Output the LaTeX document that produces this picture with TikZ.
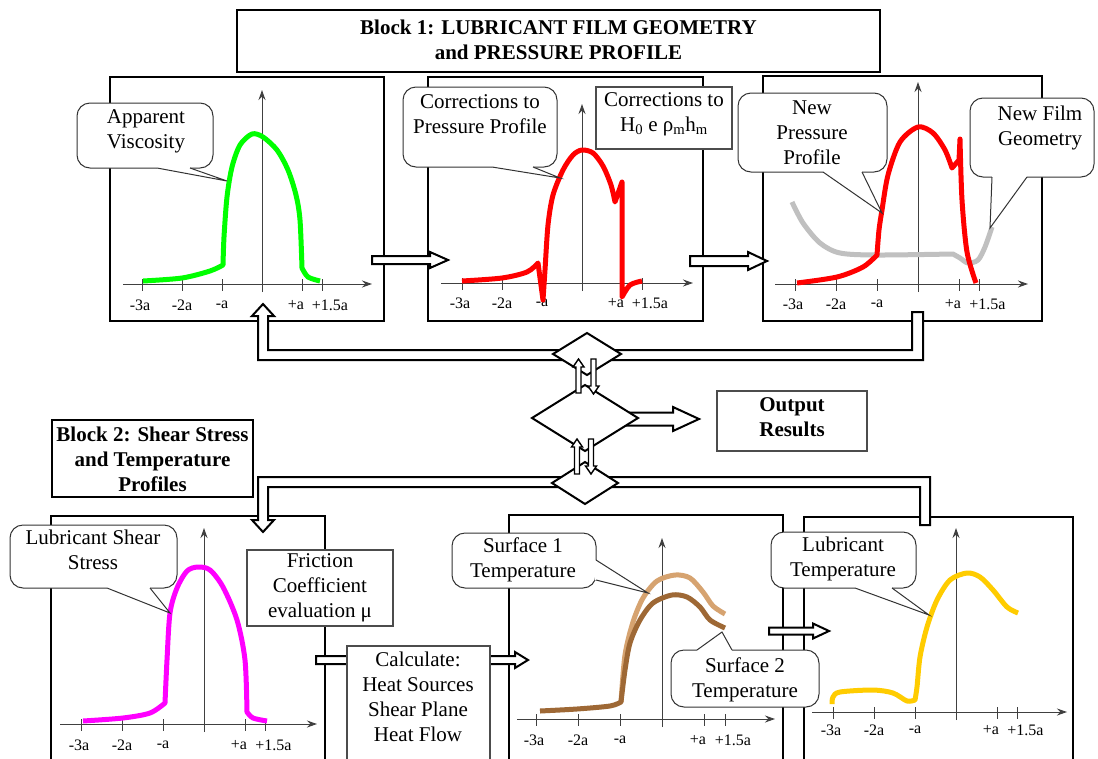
\documentclass[tikz,border=0pt]{standalone}
\usepackage{fontspec}
\setmainfont{Liberation Serif}
\usetikzlibrary{arrows.meta}
\definecolor{vgreen}{RGB}{0,255,0}
\definecolor{vred}{RGB}{255,0,0}
\definecolor{vgrey}{RGB}{192,192,192}
\definecolor{vmag}{RGB}{255,0,255}
\definecolor{vyellow}{RGB}{255,204,0}
\definecolor{surfA}{RGB}{214,163,112}
\definecolor{surfB}{RGB}{158,104,53}
\tikzset{
 panel/.style={draw=black, line width=2pt, fill=white},
 titlebox/.style={draw=black, line width=2pt, fill=white},
 tbox/.style={draw=black!70, line width=1.2pt, fill=white},
 callout/.style={draw=black!80, line width=1pt, fill=white, rounded corners=13pt},
 axisline/.style={draw=black!75, line width=1pt},
 curve/.style={line width=5pt, line join=round},
 blockarrow/.style={draw=black, line width=2pt, fill=white, line join=miter},
 smallarrow/.style={draw=black, line width=1.4pt, fill=white, line join=miter},
 pipe/.style={draw=black, line width=2pt, fill=white, line join=miter},
 diam/.style={draw=black, line width=2pt, fill=white, line join=miter},
 ctext/.style={font=\fontsize{21}{25}\selectfont, align=center, inner sep=0pt},
 btext/.style={font=\fontsize{21}{25}\selectfont\bfseries, align=center, inner sep=0pt},
 ltext/.style={font=\fontsize{16}{18}\selectfont, inner sep=0pt},
 axtip/.style={-{Stealth[length=10pt,width=7pt]}},
}
% X0, Y, a, xl, xr, ytop, ybot, ylab
\newcommand{\myAxes}[8]{%
 \draw[axisline,axtip] (#4,#2) -- (#5,#2);
 \draw[axisline,axtip] (#1,#7) -- (#1,#6);
 \foreach \k in {-3,-2,-1,1,1.5} \draw[axisline] ({#1+\k*#3},#2-5) -- ({#1+\k*#3},#2+7);
 \node[ltext] at ({#1-3*#3-2},#8) {-3a};
 \node[ltext] at ({#1-2*#3},#8) {-2a};
 \node[ltext] at ({#1-#3},#8) {-a};
 \node[ltext] at ({#1+#3-6},#8) {+a};
 \node[ltext] at ({#1+1.5*#3+8},#8) {+1.5a};
}
% x1, xtip, y, shaft half, head half, head length
\newcommand{\myRArrow}[6]{\filldraw[blockarrow] (#1,#3-#4) -- (#2-#6,#3-#4) -- (#2-#6,#3-#5) -- (#2,#3) -- (#2-#6,#3+#5) -- (#2-#6,#3+#4) -- (#1,#3+#4) -- cycle;}
% x, ytip, ybottom, shaft half, head half, head length
\newcommand{\myUArrow}[6]{\filldraw[smallarrow] (#1-#4,#3) -- (#1-#4,#2+#6) -- (#1-#5,#2+#6) -- (#1,#2) -- (#1+#5,#2+#6) -- (#1+#4,#2+#6) -- (#1+#4,#3) -- cycle;}
% x, ytop, ytip, shaft half, head half, head length
\newcommand{\myDArrow}[6]{\filldraw[smallarrow] (#1-#4,#2) -- (#1-#4,#3-#6) -- (#1-#5,#3-#6) -- (#1,#3) -- (#1+#5,#3-#6) -- (#1+#4,#3-#6) -- (#1+#4,#2) -- cycle;}
% corner1, corner2, base1, base2, tip
\newcommand{\myCallout}[5]{%
 \filldraw[callout] #1 rectangle #2;
 \fill[white] #3 -- #5 -- #4 -- cycle;
 \draw[white, line width=1.8pt] #3 -- #4;
 \draw[draw=black!80, line width=1pt, line join=miter] #3 -- #5 -- #4;
}
\begin{document}
\begin{tikzpicture}[x=1pt,y=-1pt]
\useasboundingbox (0,0) rectangle (1098,758);
\clip (0,0) rectangle (1098,758);
\fill[white] (0,0) rectangle (1098,758);

% title boxes
\draw[titlebox] (237,10) rectangle (880,72);
\node[btext] (t1) at (558.5,39.5) {Block 1: LUBRICANT FILM GEOMETRY\\and PRESSURE PROFILE};
\draw[titlebox] (52,420) rectangle (253,497);
\node[btext] (t2) at (152.5,459) {Block 2: Shear Stress\\and Temperature\\Profiles};

% panels
\draw[panel] (110,77) rectangle (384,321);
\draw[panel] (428,77) rectangle (703,321);
\draw[panel] (763,76) rectangle (1042,321);
\draw[panel] (51,516) rectangle (325,800);
\draw[panel] (509,515) rectangle (783,800);
\draw[panel] (804,517) rectangle (1073,800);

% axes
\myAxes{262}{284}{40}{123}{372}{90}{292}{305}
\myAxes{582}{283}{40}{441}{693}{104}{291}{303}
\myAxes{918}{284}{41}{775}{1028}{82}{292}{304}
\myAxes{204}{724}{41}{60}{317}{528}{732}{745}
\myAxes{662}{719}{42}{517}{775}{538}{727}{740}
\myAxes{956}{712}{41}{812}{1067}{528}{720}{730}

% curves
\draw[curve, vgreen] plot[smooth] coordinates {(143,281) (182,278) (210,271) (223,265)}
 -- plot[smooth] coordinates {(223,265) (224,237) (227,197) (232,167) (240,145) (252,134) (263,137) (277,150) (288,170) (296,195) (300,220) (302,268)}
 -- plot[smooth] coordinates {(302,268) (308,277) (320,281)};
\draw[curve, vred] plot[smooth] coordinates {(462,281) (502,278) (527,272) (538,263)} -- (543,300)
 -- plot[smooth] coordinates {(543,300) (545,270) (548,225) (553,195) (563,170) (573,155) (582,150) (593,153) (603,166) (611,185) (615,202)}
 -- (622,182) -- (622,297)
 -- plot[smooth] coordinates {(622,297) (630,285) (642,281)};
\draw[curve, vgrey] plot[smooth] coordinates {(792,202) (803,223) (820,243) (840,253) (877,255) (953,254)}
 -- plot[smooth] coordinates {(953,254) (960,258) (968,263) (978,260) (985,247) (992,227)};
\draw[curve, vred] plot[smooth] coordinates {(797,283) (837,277) (863,267) (877,255)}
 -- plot[smooth] coordinates {(877,255) (879,230) (882,210) (888,175) (900,142) (918,127) (933,133) (945,150) (952,168)}
 -- (959,160) -- (960,139)
 -- plot[smooth] coordinates {(960,139) (962,200) (967,252) (976,283)};
\draw[curve, vmag] plot[smooth] coordinates {(83,721) (123,718) (150,713) (165,703)}
 -- plot[smooth] coordinates {(165,703) (167,660) (170,613) (177,588) (187,571) (198,567) (210,570) (223,587) (237,620) (245,660) (247,712)}
 -- plot[smooth] coordinates {(247,712) (253,718) (267,721)};
\draw[curve, surfA] plot[smooth] coordinates {(621,702) (625,655) (633,622) (643,598) (657,581) (675,575) (690,578) (703,592) (713,606) (725,614)};
\draw[curve, surfB] plot[smooth] coordinates {(540,711) (577,709) (610,706) (621,702)}
 -- plot[smooth] coordinates {(621,702) (625,670) (630,643) (640,620) (653,603) (672,595) (687,597) (700,607) (710,620) (725,628)};
\draw[curve, vyellow] plot[smooth] coordinates {(832,704) (833,697) (840,692) (873,690) (893,693) (907,701) (915,700)}
 -- plot[smooth] coordinates {(915,700) (917,687) (920,657) (927,627) (937,600) (950,580) (967,573) (980,577) (993,590) (1007,607) (1018,613)};

% pipes
\filldraw[pipe] (263,304) -- (274,316) -- (268,316) -- (268,350) -- (912,350) -- (912,312) -- (923,312) -- (923,360) -- (258,360) -- (258,316) -- (252,316) -- cycle;
\filldraw[pipe] (263,532) -- (252,520) -- (258,520) -- (258,477) -- (930,477) -- (930,525) -- (920,525) -- (920,487) -- (268,487) -- (268,520) -- (274,520) -- cycle;

% output arrow and diamonds
\myRArrow{615}{699}{419}{6.5}{12}{26}
\filldraw[diam] (553,354) -- (587,333) -- (621,354) -- (587,375) -- cycle;
\filldraw[diam] (532,418) -- (585,385) -- (638,418) -- (585,451) -- cycle;
\filldraw[diam] (552,483) -- (585,462) -- (618,483) -- (585,504) -- cycle;
\myUArrow{578.5}{359}{393}{2.5}{5.5}{8}
\myDArrow{593.5}{359}{394}{2.5}{5.5}{8}
\myUArrow{577}{439}{474}{2.5}{5.5}{8}
\myDArrow{591}{439}{474}{2.5}{5.5}{8}

% block arrows between panels
\myRArrow{372}{448}{260}{4}{8}{18}
\myRArrow{690}{767}{261}{5}{9}{19}
\myRArrow{316}{363}{660}{4}{8}{13}
\myRArrow{476}{528}{660}{4}{8}{13}
\myRArrow{769}{829}{631}{3.5}{7.5}{16}

% text boxes
\draw[tbox] (596,87) rectangle (732,149);
\node[ctext] (hcorr) at (664,114) {Corrections to\\H\textsubscript{0} e ρ\textsubscript{m}h\textsubscript{m}};
\draw[tbox] (247,550) rectangle (393,626);
\node[ctext] (fric) at (320,588) {Friction\\Coefficient\\evaluation μ};
\draw[tbox] (347,646) rectangle (490,800);
\node[ctext] (calc) at (418,696.5) {Calculate:\\Heat Sources\\Shear Plane\\Heat Flow};
\draw[tbox] (717,391) rectangle (867,451);
\node[btext] (out) at (792,417.5) {Output\\Results};

% callouts
\myCallout{(77,103)}{(213,168)}{(157,168)}{(190,168)}{(227,181)}
\node[ctext] (c1) at (146,131.5) {Apparent\\Viscosity};
\myCallout{(403,87)}{(557,167)}{(492,167)}{(533,167)}{(560,178)}
\node[ctext] (c2) at (480,114.5) {Corrections to\\Pressure Profile};
\myCallout{(738,93)}{(887,172)}{(823,172)}{(862,172)}{(882,213)}
\node[ctext] (c3) at (812,132.5) {New\\Pressure\\Profile};
\myCallout{(970,98)}{(1094,177)}{(992,177)}{(1027,177)}{(990,228)}
\node[ctext] (c4) at (1040,127.5) {New Film\\Geometry};
\myCallout{(10,525)}{(177,588)}{(107,588)}{(150,588)}{(170,613)}
\node[ctext] (c5) at (93,549.5) {Lubricant Shear\\Stress};
\myCallout{(452,533)}{(596,588)}{(596,560)}{(596,580)}{(648,593)}
\node[ctext] (c6) at (523,559.5) {Surface 1\\Temperature};
\myCallout{(671,650)}{(819,707)}{(697,650)}{(732,650)}{(722,632)}
\node[ctext] (c7) at (745,679.5) {Surface 2\\Temperature};
\myCallout{(771,532)}{(916,588)}{(855,588)}{(892,588)}{(929,615)}
\node[ctext] (c8) at (843,558.5) {Lubricant\\Temperature};
\end{tikzpicture}
\end{document}
